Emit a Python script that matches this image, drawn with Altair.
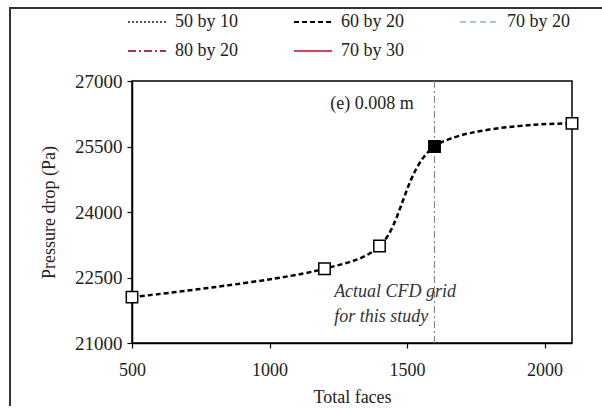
import altair as alt
import pandas as pd

# ---- data ----
faces = [500, 1200, 1400, 1600, 2100]
pressure = [22050, 22700, 23220, 25500, 26030]
series_names = ["50 by 10", "60 by 20", "70 by 20", "80 by 20", "70 by 30"]
series_colors = ["#555555", "#000000", "#a9c9b8", "#b03050", "#d8405e"]
series_dashes = [[2, 2], [5, 3], [6, 4], [8, 3, 2, 3], [1, 0]]
selected_faces = 1600
y_ticks = [21000, 22500, 24000, 25500, 27000]
x_ticks = [500, 1000, 1500, 2000]

df = pd.DataFrame({"faces": faces, "pressure": pressure, "series": "60 by 20"})

FONT = "Liberation Serif"
FS = 18

xscale = alt.Scale(domain=[500, 2100], nice=False, zero=False)
yscale = alt.Scale(domain=[21000, 27000], nice=False, zero=False)

xenc = alt.X("faces:Q", scale=xscale, title="Total faces",
             axis=alt.Axis(values=x_ticks, grid=False, format="d", labelFlush=False,
                           labelPadding=13, titlePadding=9))
yenc = alt.Y("pressure:Q", scale=yscale, title="Pressure drop (Pa)",
             axis=alt.Axis(values=y_ticks, grid=False, format="d", labelPadding=5,
                           labelFontSize=19, titlePadding=16))

line = alt.Chart(df).mark_line(strokeWidth=2.5, interpolate="catmull-rom").encode(
    x=xenc,
    y=yenc,
    color=alt.Color("series:N", scale=alt.Scale(domain=series_names, range=series_colors),
                    legend=alt.Legend(title=None)),
    strokeDash=alt.StrokeDash("series:N", scale=alt.Scale(domain=series_names, range=series_dashes),
                              legend=alt.Legend(title=None)),
)

points = alt.Chart(df).mark_point(shape="square", size=130, filled=False, strokeWidth=1.5,
                                  stroke="black", opacity=1).encode(
    x=alt.X("faces:Q", scale=xscale),
    y=alt.Y("pressure:Q", scale=yscale),
    fill=alt.condition(alt.datum.faces == selected_faces, alt.value("black"), alt.value("white")),
)

vline = alt.Chart(pd.DataFrame({"faces": [selected_faces]})).mark_rule(
    color="#888888", strokeWidth=1.2, strokeDash=[7, 3, 2, 3]
).encode(x=alt.X("faces:Q", scale=xscale))

label_df = pd.DataFrame({"faces": [1373], "pressure": [26480], "text": ["(e) 0.008 m"]})
label = alt.Chart(label_df).mark_text(font=FONT, fontSize=FS, color="#222222", align="center",
                                      baseline="middle").encode(
    x=alt.X("faces:Q", scale=xscale), y=alt.Y("pressure:Q", scale=yscale), text="text:N")

note_df = pd.DataFrame({"faces": [1235, 1235], "pressure": [22170, 21600],
                        "text": ["Actual CFD grid", "for this study"]})
note = alt.Chart(note_df).mark_text(font=FONT, fontSize=FS, fontStyle="italic", color="#333333",
                                    align="left", baseline="middle").encode(
    x=alt.X("faces:Q", scale=xscale), y=alt.Y("pressure:Q", scale=yscale), text="text:N")

# outer frame (decoration): right and bottom edges fall outside the canvas
frame = alt.Chart(pd.DataFrame({"a": [0]})).mark_rect(
    fill="transparent", stroke="#333333", strokeWidth=2
).encode(x=alt.value(-122), x2=alt.value(500), y=alt.value(-73), y2=alt.value(360))

chart = alt.layer(frame, vline, line, points, label, note).properties(
    width=440, height=262,
    autosize=alt.AutoSizeParams(type="none"),
    padding={"left": 132, "top": 81, "right": 30, "bottom": 63},
    background="white",
).configure_view(
    stroke="black", strokeWidth=1.5
).configure_axis(
    labelFont=FONT, titleFont=FONT, labelFontSize=FS, titleFontSize=FS,
    labelColor="#222222", titleColor="#222222", titleFontWeight="normal",
    domainColor="black", domainWidth=1.5, tickColor="black", tickSize=5, tickWidth=1.2,
).configure_legend(
    orient="none", legendX=-5, legendY=-79, columns=3, direction="horizontal",
    labelFont=FONT, labelFontSize=FS, labelColor="#222222",
    symbolType="stroke", symbolSize=1444, symbolStrokeWidth=2,
    labelOffset=8, columnPadding=52, rowPadding=-13, labelLimit=200,
)

chart.save("out.html", embed_options={"renderer": "svg", "actions": False})
